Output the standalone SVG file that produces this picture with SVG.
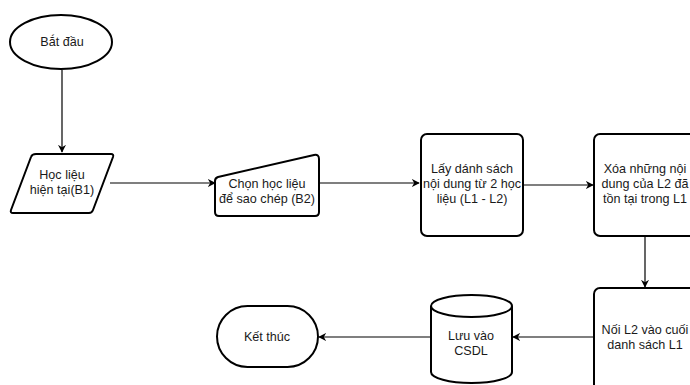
<svg xmlns="http://www.w3.org/2000/svg" width="690" height="385" viewBox="0 0 690 385">
  <defs>
    <marker id="arrow" viewBox="0 0 10 10" refX="9" refY="5" markerWidth="8" markerHeight="8" markerUnits="userSpaceOnUse" orient="auto">
      <path d="M0,0 L10,5 L0,10 L3,5 Z" fill="#000"/>
    </marker>
  </defs>
  <style>
    .shape { fill: #fff; stroke: #000; stroke-width: 2; stroke-linejoin: round; }
    .edge { fill: none; stroke: #000; stroke-width: 1.2; marker-end: url(#arrow); }
    text { font-family: "Liberation Sans", Arial, sans-serif; font-size: 12.6px; fill: #1a1a1a; text-anchor: middle; }
  </style>
  <rect width="690" height="385" fill="#fff"/>

  <!-- connectors -->
  <g id="connectors">
    <path class="edge" d="M62,70 L62,152"/>
    <path class="edge" d="M110,183 L215,183"/>
    <path class="edge" d="M319,183 L419,183"/>
    <path class="edge" d="M523,185 L593,185"/>
    <path class="edge" d="M645,236 L645,287"/>
    <path class="edge" d="M594,337 L513,337"/>
    <path class="edge" d="M431,337 L319,337"/>
  </g>

  <!-- start -->
  <g id="start">
    <ellipse class="shape" cx="61" cy="42" rx="51" ry="27"/>
    <text x="62" y="46">Bắt đầu</text>
  </g>

  <!-- input B1 -->
  <g id="input-b1">
    <path class="shape" d="M36,154 L111,154 Q114,154 113,157 L93,210 Q92,213 89,213 L13,213 Q10,213 11,210 L31,157 Q32,154 36,154 Z"/>
    <text x="62" y="179">Học liệu</text>
    <text x="62" y="194">hiện tại(B1)</text>
  </g>

  <!-- manual input B2 -->
  <g id="select-b2">
    <path class="shape" d="M215,181 Q215,178 218,177 L314,155 Q319,154 319,159 L319,212 Q319,216 315,216 L219,216 Q215,216 215,212 Z"/>
    <text x="267" y="188">Chọn học liệu</text>
    <text x="267" y="203">để sao chép (B2)</text>
  </g>

  <!-- get lists -->
  <g id="get-lists">
    <rect class="shape" x="421" y="134" width="102" height="102" rx="6"/>
    <text x="472" y="173">Lấy dánh sách</text>
    <text x="472" y="188">nội dung từ 2 học</text>
    <text x="472" y="203">liệu (L1 - L2)</text>
  </g>

  <!-- remove duplicates -->
  <g id="remove-dup">
    <rect class="shape" x="594" y="134" width="102" height="102" rx="6"/>
    <text x="645" y="173">Xóa những nội</text>
    <text x="645" y="188">dung của L2 đã</text>
    <text x="645" y="203">tồn tại trong L1</text>
  </g>

  <!-- append -->
  <g id="append">
    <rect class="shape" x="594" y="288" width="102" height="102" rx="6"/>
    <text x="645" y="334">Nối L2 vào cuối</text>
    <text x="645" y="349">danh sách L1</text>
  </g>

  <!-- database -->
  <g id="save-db">
    <path class="shape" d="M431,306 A40.5,11 0 0 1 512,306 L512,372 A40.5,11 0 0 1 431,372 Z"/>
    <path class="shape" fill="none" d="M431,306 A40.5,11 0 0 0 512,306"/>
    <text x="471" y="340">Lưu vào</text>
    <text x="471" y="355">CSDL</text>
  </g>

  <!-- end -->
  <g id="end">
    <rect class="shape" x="217" y="306" width="101" height="61" rx="30.5"/>
    <text x="267" y="341">Kết thúc</text>
  </g>
</svg>
